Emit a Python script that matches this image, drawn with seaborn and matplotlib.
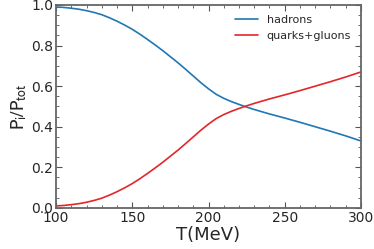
import numpy as np
import pandas as pd
import matplotlib
matplotlib.use("Agg")
import matplotlib.pyplot as plt
import seaborn as sns
from matplotlib.ticker import MultipleLocator

T = [100, 105, 110, 115, 120, 125, 130, 135, 140, 145, 150, 155, 160, 165, 170,
     175, 180, 185, 190, 195, 200, 205, 210, 215, 220, 225, 230, 240, 250,
     260, 270, 280, 290, 300]
hadrons = [0.99, 0.988, 0.984, 0.979, 0.972, 0.963, 0.952, 0.937, 0.92, 0.901, 0.88,
           0.856, 0.83, 0.803, 0.775, 0.745, 0.715, 0.683, 0.65, 0.617, 0.587,
           0.56, 0.54, 0.524, 0.51, 0.497, 0.485, 0.463, 0.443, 0.422, 0.40,
           0.378, 0.355, 0.33]
quarks = [1 - h for h in hadrons]

df = pd.DataFrame({"T": T, "hadrons": hadrons, "quarks+gluons": quarks})
df = df.melt(id_vars="T", var_name="phase", value_name="P")

sns.set_style("white")
plt.rcParams["mathtext.fontset"] = "stixsans"

fig = plt.figure(figsize=(3.74, 2.49), dpi=100)
ax = fig.add_axes([0.15, 0.165, 0.815, 0.815])
sns.lineplot(data=df, x="T", y="P", hue="phase",
             palette=["#1f77b4", "#e3262a"], linewidth=1.2, ax=ax)

ax.set_xlim(100, 300)
ax.set_ylim(0, 1)
ax.xaxis.set_major_locator(MultipleLocator(50))
ax.xaxis.set_minor_locator(MultipleLocator(10))
ax.yaxis.set_major_locator(MultipleLocator(0.2))
ax.yaxis.set_minor_locator(MultipleLocator(0.05))
ax.tick_params(which="both", direction="in", bottom=True, left=True, top=True, right=True,
               labelsize=10, color="#555555", pad=2)
ax.tick_params(which="major", length=4, width=0.8)
ax.tick_params(which="minor", length=2, width=0.6)
for s in ax.spines.values():
    s.set_color("#666666")
    s.set_linewidth(1.3)

ax.set_xlabel("T(MeV)", fontsize=13, labelpad=1)
ax.set_ylabel(r"$\mathrm{P_i/P_{tot}}$", fontsize=14, labelpad=2)
ax.legend(title=None, frameon=False, fontsize=8, loc="upper right")

fig.savefig("out.png", dpi=100)
